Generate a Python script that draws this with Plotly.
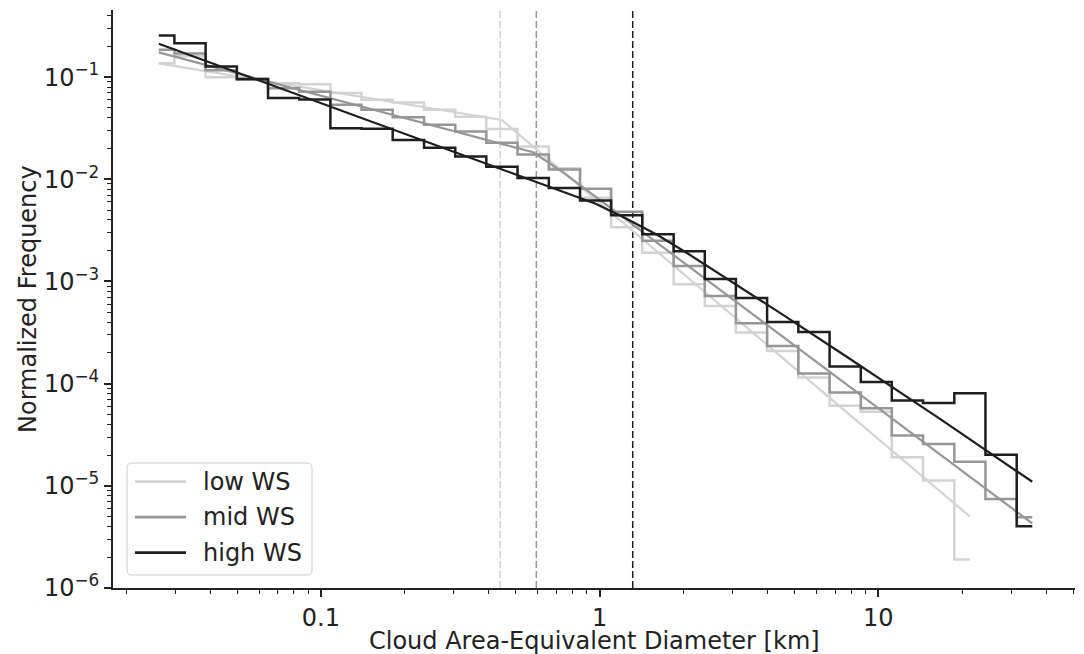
import plotly.graph_objects as go

# Bin centres of the diameter histogram [km]
diameter_km = [0.0262, 0.0339, 0.0439, 0.0568, 0.0735, 0.0951, 0.123, 0.159, 0.206,
               0.267, 0.345, 0.446, 0.578, 0.748, 0.968, 1.25, 1.62, 2.10, 2.71,
               3.51, 4.54, 5.88, 7.61, 9.85, 12.7, 16.5, 21.3, 27.6, 35.7]

# Normalized frequency per bin for each wind-shear class
freq_low = [0.137, 0.160, 0.100, 0.095, 0.087, 0.085, 0.0698, 0.060, 0.0565, 0.048,
            0.041, 0.031, 0.021, 0.0128, 0.0066, 0.0034, 0.00191, 0.000937, 0.000575,
            0.000316, 0.000209, 0.000115, 6.07e-5, 5.3e-5, 1.9e-5, 1.125e-5, 1.9e-6]
freq_mid = [0.185, 0.170, 0.117, 0.097, 0.078, 0.072, 0.0537, 0.048, 0.0406, 0.0342,
            0.0294, 0.0228, 0.0175, 0.01245, 0.0081, 0.0048, 0.0025, 0.00142, 0.000721,
            0.00039, 0.000234, 0.000126, 8.2e-5, 5.73e-5, 3.1e-5, 2.57e-5, 1.72e-5,
            7.45e-6, 4.93e-6]
freq_high = [0.255, 0.215, 0.127, 0.0956, 0.0624, 0.0605, 0.0316, 0.0312, 0.0242, 0.0204,
             0.0167, 0.0133, 0.0103, 0.00824, 0.0062, 0.00445, 0.0029, 0.00198, 0.00106,
             0.00069, 0.000402, 0.00032, 0.000147, 0.000104, 6.85e-5, 6.45e-5, 8.07e-5,
             2.02e-5, 4.03e-6]

# Fitted broken power laws, sampled at bin centres
fit_low_x = [0.0262, 0.446, 21.3]
fit_low_y = [0.1361, 0.03803, 5.01e-6]
fit_mid_x = [0.0262, 0.578, 0.748, 35.7]
fit_mid_y = [0.1747, 0.01839, 0.01142, 4.28e-6]
fit_high_x = [0.0262, 0.267, 0.748, 0.968, 1.25, 1.62, 2.10, 2.71, 3.51, 4.54, 7.61, 16.5, 35.7]
fit_high_y = [0.212, 0.02104, 0.00746, 0.005764, 0.004114, 0.002838, 0.001835, 0.001178,
              0.000752, 0.000474, 0.0001877, 4.59e-5, 1.096e-5]

# Scale breaks [km]
breaks = [0.44, 0.593, 1.315]

labels = ["low WS", "mid WS", "high WS"]
colors = ["#d3d3d3", "#969696", "#1e1e1e"]

FONT = "DejaVu Sans"
FS = 24
INK = "#222222"

W, H = 1084, 654
ML, MR, MT, MB = 113, 9, 10, 66
PW, PH = W - ML - MR, H - MT - MB


def px(xp):
    """Horizontal pixel position -> paper fraction of the plot area."""
    return (xp - ML) / PW


def py(yp):
    """Vertical pixel position (from top) -> paper fraction of the plot area."""
    return (H - MB - yp) / PH


fig = go.Figure()

series = [
    (freq_low, fit_low_x, fit_low_y),
    (freq_mid, fit_mid_x, fit_mid_y),
    (freq_high, fit_high_x, fit_high_y),
]
for (freq, fx, fy), name, col in zip(series, labels, colors):
    fig.add_trace(go.Scatter(
        x=diameter_km[:len(freq)], y=freq, mode="lines", name=name,
        line=dict(color=col, width=2.5, shape="hvh"), showlegend=False,
    ))
    fig.add_trace(go.Scatter(
        x=fx, y=fy, mode="lines", showlegend=False,
        line=dict(color=col, width=2.2),
    ))

for xb, col in zip(breaks, colors):
    fig.add_shape(type="line", xref="x", yref="paper", x0=xb, x1=xb, y0=0, y1=1,
                  line=dict(color=col, width=1.5, dash="7px,3px"), layer="below")

# Legend frame with rounded corners
bx0, bx1, by0, by1, r = 127, 312, 463, 575, 5
frame = (
    f"M {px(bx0 + r)},{py(by0)} L {px(bx1 - r)},{py(by0)} "
    f"Q {px(bx1)},{py(by0)} {px(bx1)},{py(by0 + r)} "
    f"L {px(bx1)},{py(by1 - r)} Q {px(bx1)},{py(by1)} {px(bx1 - r)},{py(by1)} "
    f"L {px(bx0 + r)},{py(by1)} Q {px(bx0)},{py(by1)} {px(bx0)},{py(by1 - r)} "
    f"L {px(bx0)},{py(by0 + r)} Q {px(bx0)},{py(by0)} {px(bx0 + r)},{py(by0)} Z"
)
fig.add_shape(type="path", xref="paper", yref="paper", path=frame,
              fillcolor="rgba(255,255,255,0.8)", line=dict(color="#cccccc", width=1),
              layer="above")

annotations = []
for i, (name, col) in enumerate(zip(labels, colors)):
    row_y = 481.7 + 35.5 * i
    fig.add_shape(type="line", xref="paper", yref="paper",
                  x0=px(135), x1=px(186), y0=py(row_y), y1=py(row_y),
                  line=dict(color=col, width=2.8), layer="above")
    annotations.append(dict(
        text=name, xref="paper", yref="paper", x=px(201), y=py(row_y),
        xanchor="left", yanchor="middle", showarrow=False,
        font=dict(family=FONT, size=FS, color=INK)))

annotations += [
    dict(text="Cloud Area-Equivalent Diameter [km]", xref="paper", yref="paper",
         x=0.5, y=0, xanchor="center", yanchor="middle", yshift=-53,
         showarrow=False, font=dict(family=FONT, size=FS, color=INK)),
    dict(text="Normalized Frequency", xref="paper", yref="paper",
         x=0, y=0.5, xanchor="center", yanchor="middle", xshift=-85,
         textangle=-90, showarrow=False, font=dict(family=FONT, size=FS, color=INK)),
]

x_minor = [m * 10.0 ** e for e in (-2, -1, 0, 1) for m in range(2, 10)
           if 0.018 < m * 10.0 ** e < 50.5]
y_minor = [m * 10.0 ** e for e in (-6, -5, -4, -3, -2, -1) for m in range(2, 10)
           if m * 10.0 ** e < 0.45]
y_major = [10.0 ** e for e in range(-6, 0)]
y_text = ["10<sup>\u2212%d</sup>" % (-e) for e in range(-6, 0)]

axis_common = dict(
    showline=True, linecolor=INK, linewidth=2, mirror=False,
    ticks="outside", ticklen=7, tickwidth=1.8, tickcolor=INK,
    showgrid=False, zeroline=False,
    tickfont=dict(family=FONT, size=FS, color=INK),
)

fig.update_layout(
    width=W, height=H, autosize=False,
    margin=dict(l=ML, r=MR, t=MT, b=MB, pad=0),
    paper_bgcolor="white", plot_bgcolor="white",
    template="none",
    font=dict(family=FONT, size=FS, color=INK),
    xaxis=dict(
        type="log", range=[-1.746, 1.706],
        tickmode="array", tickvals=[0.1, 1, 10], ticktext=["0.1", "1", "10"],
        minor=dict(tickmode="array", tickvals=x_minor, ticks="outside", ticklen=4,
                   tickwidth=1.3, tickcolor=INK, showgrid=False),
        **axis_common,
    ),
    yaxis=dict(
        type="log", range=[-6, -0.343],
        tickmode="array", tickvals=y_major, ticktext=y_text,
        minor=dict(tickmode="array", tickvals=y_minor, ticks="outside", ticklen=4,
                   tickwidth=1.3, tickcolor=INK, showgrid=False),
        **axis_common,
    ),
    showlegend=False,
    annotations=annotations,
)

fig.write_html("out.html")
